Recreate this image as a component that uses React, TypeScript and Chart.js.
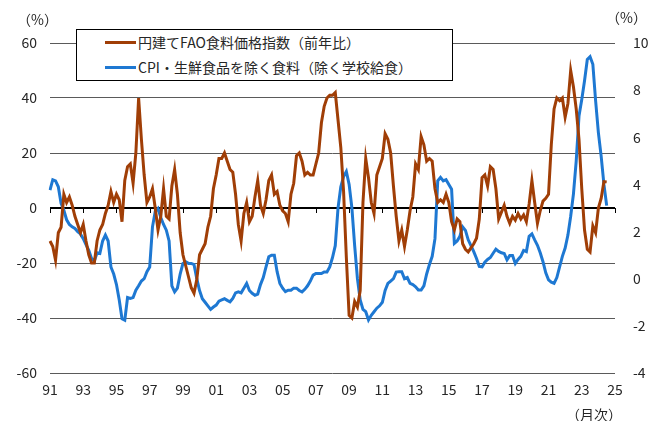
import React, { useEffect, useRef } from 'react';
import { Chart, registerables } from 'chart.js';

Chart.register(...registerables);

const FONT = '"Noto Sans CJK JP", "Noto Sans", sans-serif';
const TEXT = '#262626';
const ORANGE = '#A03E06';
const BLUE = '#1E78D2';

// bimonthly observation months (Jan, Mar, May, Jul, Sep, Nov), 1991/1 .. 2025/1
const startYear = 1991;
const endYear = 2025;
const obsMonths = [1, 3, 5, 7, 9, 11];
const categories: string[] = [];
for (let y = startYear; y < endYear; y++) {
  for (const m of obsMonths) categories.push(`${y}/${m}`);
}
categories.push(`${endYear}/1`);

// x tick labels every two years
const xTickLabels = ['91', '93', '95', '97', '99', '01', '03', '05', '07', '09', '11', '13', '15', '17', '19', '21', '23', '25'];

// 円建てFAO食料価格指数（前年比）, %  (left axis)
const faoYen: (number | null)[] = [
  -12, -14, -19, -9, -7, 5,          // 1991
  2, 4, 1, -3, -6, -9,               // 1992
  -6, -12, -17, -20, -20, -12,       // 1993
  -8, -6, -2, 1, 6, 2,               // 1994
  5, 3, -5, 10, 15, 16,              // 1995
  9, 20, 40, 25, 12, 2,              // 1996
  4, 7, 0, -8, -3, 7,                // 1997
  -3, -4, 8, 14, 5, -9,              // 1998
  -17, -21, -25, -29, -31, -26,      // 1999
  -17, -15, -13, -7, -3, 7,          // 2000
  12, 18, 18, 20, 17, 14,            // 2001
  13, 5, -6, -12, -2, 2,             // 2002
  -5, -3, 4, 10, 1, -2,              // 2003
  3, 10, 12, 5, 6, 1,                // 2004
  -1, -2, -5, 5, 9, 19,              // 2005
  20, 17, 12, 13, 12, 12,            // 2006
  16, 20, 31, 37, 40, 41,            // 2007
  41, 42, 32, 22, 6, -18,            // 2008
  -39, -40, -34, -36, -30, 2,        // 2009
  18, 11, 2, -2, 12, 15,             // 2010
  18, 27, 25, 20, 8, -3,             // 2011
  -12, -8, -14, -8, -1, 4,           // 2012
  16, 14, 26, 23, 17, 18,            // 2013
  17, 7, 2, 3, 2, 5,                 // 2014
  2, -5, -8, -4, -5, -13,            // 2015
  -15, -16, -14.5, -13, -11, -4,     // 2016
  11, 12, 8, 15, 14, 7,              // 2017
  -4, -1.5, 1, -3, -5.6, -3,         // 2018
  -4.4, -2, -4, -2.5, -5, 1.5,       // 2019
  10, 2, -5.6, -1, 2.5, 3.5,         // 2020
  5, 23, 36, 40, 39, 40,             // 2021
  33, 38, 50, 44, 36, 25,            // 2022
  7, -8, -15, -16, -6.5, -9,         // 2023
  0, 3.5, 9.6, 9.5, null, null,      // 2024
  null,                              // 2025
];

// CPI・生鮮食品を除く食料（除く学校給食）, %  (right axis)
const cpiFood: (number | null)[] = [
  3.76, 4.2, 4.15, 3.9, 3.2, 2.9,          // 1991
  2.5, 2.3, 2.2, 2.13, 2.0, 1.9,           // 1992
  1.7, 1.45, 1.2, 0.86, 0.75, 1.1,         // 1993
  1.07, 1.6, 1.85, 1.6, 0.5, 0.2,          // 1994
  -0.25, -0.9, -1.7, -1.76, -0.8, -0.84,   // 1995
  -0.8, -0.49, -0.3, -0.1, 0.0, 0.3,       // 1996
  0.5, 2.2, 2.85, 2.98, 2.6, 2.3,          // 1997
  2.06, 1.6, -0.3, -0.56, -0.4, 0.2,       // 1998
  0.65, 0.72, 0.65, 0.65, 0.6, 0.0,        // 1999
  -0.5, -0.85, -1.0, -1.15, -1.3, -1.2,    // 2000
  -1.12, -0.95, -0.9, -0.85, -0.92, -0.98, // 2001
  -0.84, -0.6, -0.56, -0.6, -0.4, -0.2,    // 2002
  -0.5, -0.62, -0.7, -0.65, -0.25, 0.05,   // 2003
  0.5, 0.93, 1.0, 1.0, 0.3, -0.2,          // 2004
  -0.4, -0.55, -0.49, -0.49, -0.4, -0.4,   // 2005
  -0.5, -0.56, -0.45, -0.3, -0.1, 0.15,    // 2006
  0.22, 0.22, 0.22, 0.29, 0.29, 0.5,       // 2007
  0.9, 1.4, 3.0, 3.9, 4.33, 4.55,          // 2008
  4.0, 3.0, 1.4, 0.0, -0.9, -1.3,          // 2009
  -1.4, -1.75, -1.55, -1.4, -1.25, -1.15,  // 2010
  -1.0, -0.5, -0.2, -0.1, 0.0, 0.28,       // 2011
  0.3, 0.3, 0.0, 0.05, -0.2, -0.25,        // 2012
  -0.34, -0.48, -0.48, -0.3, 0.2, 0.6,     // 2013
  0.95, 1.7, 4.15, 4.3, 4.15, 4.2,         // 2014
  4.0, 3.8, 1.5, 1.6, 1.8, 2.2,            // 2015
  2.05, 1.65, 1.4, 1.15, 0.86, 0.52,       // 2016
  0.5, 0.7, 0.82, 0.9, 1.08, 1.25,         // 2017
  1.16, 1.1, 1.07, 0.8, 0.98, 0.98,        // 2018
  0.65, 0.82, 0.95, 1.2, 1.15, 1.8,        // 2019
  1.9, 1.65, 1.42, 1.1, 0.72, 0.25,        // 2020
  -0.05, -0.15, -0.2, 0.05, 0.5, 0.95,     // 2021
  1.3, 1.85, 2.65, 3.6, 5.0, 6.9,          // 2022
  7.6, 8.4, 9.3, 9.42, 9.1, 7.55,          // 2023
  6.2, 5.2, 4.0, 3.1, null, null,          // 2024
  null,                                    // 2025
];

const leftMin = -60;
const leftMax = 60;
const leftStep = 20;
const rightMin = -4;
const rightMax = 10;
const rightStep = 2;

const seriesNames = ['円建てFAO食料価格指数（前年比）', 'CPI・生鮮食品を除く食料（除く学校給食）'];

const zeroTickPlugin = {
  id: 'zeroTicks',
  beforeDatasetsDraw(chart: any) {
    const xs = chart.scales.x;
    const ys = chart.scales.y;
    const y0 = ys.getPixelForValue(0);
    const ctx = chart.ctx;
    ctx.save();
    ctx.strokeStyle = '#000';
    ctx.lineWidth = 1;
    for (let i = 0; i < categories.length; i += 12) {
      const x = Math.round(xs.getPixelForValue(i)) + 0.5;
      ctx.beginPath();
      ctx.moveTo(x, y0);
      ctx.lineTo(x, y0 + 5);
      ctx.stroke();
    }
    ctx.restore();
  },
};

export default function App() {
  const canvasRef = useRef<HTMLCanvasElement>(null);

  useEffect(() => {
    if (!canvasRef.current) return;
    const chart = new Chart(canvasRef.current, {
      type: 'line',
      data: {
        labels: categories,
        datasets: [
          {
            label: seriesNames[0],
            data: faoYen,
            borderColor: ORANGE,
            backgroundColor: ORANGE,
            borderWidth: 3,
            pointRadius: 0,
            tension: 0,
            yAxisID: 'y',
            spanGaps: false,
          },
          {
            label: seriesNames[1],
            data: cpiFood,
            borderColor: BLUE,
            backgroundColor: BLUE,
            borderWidth: 3,
            pointRadius: 0,
            tension: 0,
            yAxisID: 'y1',
            spanGaps: false,
          },
        ],
      },
      options: {
        responsive: false,
        animation: false,
        events: [],
        layout: { padding: { top: 43, left: 0, right: 0, bottom: 0 } },
        plugins: {
          legend: { display: false },
          tooltip: { enabled: false },
        },
        scales: {
          x: {
            type: 'category',
            offset: false,
            grid: { display: false, drawTicks: false },
            border: { display: false },
            ticks: {
              autoSkip: false,
              maxRotation: 0,
              minRotation: 0,
              padding: 8,
              color: TEXT,
              font: { family: FONT, size: 14 },
              callback: (_v: any, i: number) => (i % 12 === 0 ? xTickLabels[i / 12] : ''),
            },
            afterFit: (s: any) => {
              s.height = 48;
            },
          },
          y: {
            position: 'left',
            min: leftMin,
            max: leftMax,
            grid: {
              drawTicks: false,
              color: (c: any) => (c.tick && c.tick.value === 0 ? '#000' : '#5a5a5a'),
              lineWidth: (c: any) => (c.tick && c.tick.value === 0 ? 2 : 1),
            },
            border: { display: false },
            ticks: {
              stepSize: leftStep,
              padding: 13,
              color: TEXT,
              font: { family: FONT, size: 14 },
            },
            afterFit: (s: any) => {
              s.width = 50;
            },
          },
          y1: {
            position: 'right',
            min: rightMin,
            max: rightMax,
            grid: { display: false, drawTicks: false },
            border: { display: false },
            ticks: {
              stepSize: rightStep,
              padding: 18,
              color: TEXT,
              font: { family: FONT, size: 14 },
            },
            afterFit: (s: any) => {
              s.width = 41;
            },
          },
        },
      },
      plugins: [zeroTickPlugin],
    } as any);
    return () => chart.destroy();
  }, []);

  const textStyle: React.CSSProperties = {
    position: 'absolute',
    fontFamily: FONT,
    fontSize: 14,
    color: TEXT,
    whiteSpace: 'nowrap',
    lineHeight: '20px',
  };

  return (
    <div style={{ position: 'absolute', left: 0, top: 0, width: 656, height: 421, background: '#fff' }}>
      <canvas ref={canvasRef} width={656} height={421} style={{ display: 'block' }} />
      <span style={{ ...textStyle, left: 17, top: 9 }}>（%）</span>
      <span style={{ ...textStyle, left: 606, top: 7 }}>（%）</span>
      <span style={{ ...textStyle, left: 566, top: 404 }}>（月次）</span>
      <div
        style={{
          position: 'absolute',
          left: 76,
          top: 29,
          width: 377,
          height: 52,
          boxSizing: 'border-box',
          border: '1px solid #000',
          background: '#fff',
        }}
      >
        <div style={{ position: 'absolute', left: 28, top: 11, width: 31, height: 3, background: ORANGE }} />
        <span style={{ ...textStyle, left: 61, top: 2, color: TEXT }}>{seriesNames[0]}</span>
        <div style={{ position: 'absolute', left: 28, top: 36, width: 31, height: 3, background: BLUE }} />
        <span style={{ ...textStyle, left: 61, top: 27, color: TEXT }}>{seriesNames[1]}</span>
      </div>
    </div>
  );
}
